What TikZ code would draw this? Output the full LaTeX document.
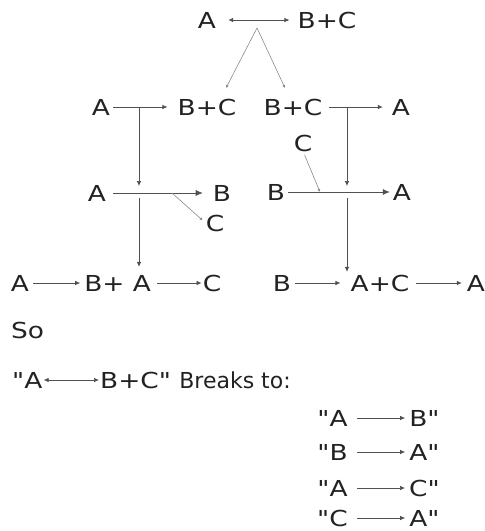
\documentclass[tikz,border=0pt]{standalone}
\usepackage{fontspec}
\setmainfont{DejaVu Sans}[FakeStretch=1.2,Ligatures=TeXOff]
\newfontfamily\plainfont{DejaVu Sans}[Ligatures=TeXOff]
\usepackage{xcolor}
\usetikzlibrary{arrows.meta,positioning,calc}
\definecolor{inkcol}{HTML}{222222}
\definecolor{linecol}{HTML}{505050}
\definecolor{leadcol}{HTML}{8A8A8A}

\begin{document}
\begin{tikzpicture}[x=1pt,y=-1pt,font=\fontsize{22}{26}\selectfont,
  every node/.style={text=inkcol,inner sep=0pt,text height=16pt,text depth=0pt},
  rx/.style={draw=linecol,line width=0.7pt,-{Latex[length=5pt,width=4.5pt]}},
  rxx/.style={rx,{Latex[length=5pt,width=4.5pt]}-{Latex[length=5pt,width=4.5pt]}},
  big/.style={-{Latex[length=7pt,width=6pt]}},
  lead/.style={draw=leadcol,line width=0.6pt,-{Latex[length=3pt,width=3pt]}},
]
\useasboundingbox (0,0) rectangle (485,531);

% the reversible reaction
\node (tA) at (207,20) {A};
\node (tBC) at (327,20) {B+C};
\draw[rxx,shorten <=12pt,shorten >=8pt] (tA) -- (tBC);
\coordinate (split) at (257,28);
\coordinate (lTo) at (226,88);
\coordinate (rTo) at (285,88);
\draw[lead] (split) -- (lTo);
\draw[lead] (split) -- (rTo);

% forward and back
\node (lA) at (101,107) {A};
\node (lBC) at (207,107) {B+C};
\draw[rx,shorten <=3pt,shorten >=10pt] (lA) -- (lBC);
\node (rBC) at (293,107) {B+C};
\node (rA) at (401,107) {A};
\draw[rx,shorten <=6pt,shorten >=9pt] (rBC) -- (rA);

% left: A gives B, C goes off
\node (mA) at (97,193) {A};
\node (mB) at (222,193) {B};
\node (mC) at (215,223) {C};
\draw[rx,big,shorten <=7pt,shorten >=10pt] (mA) -- (mB);
\coordinate (cut1) at ($(mA)!0.6!(mB)$);
\draw[lead,shorten >=4pt] (cut1) -- (mC.west);
\coordinate (j1) at (139,107);
\coordinate (j3) at (139,198);
\draw[rx,shorten >=7pt] (j1) -- (j1 |- mA);

% right: C comes in, B gives A
\node (rC) at (303,143) {C};
\node (rB) at (276,192) {B};
\node (rA3) at (402,192) {A};
\draw[rx,big,shorten <=3pt,shorten >=3pt] (rB) -- (rA3);
\coordinate (cut2) at (320,192);
\draw[lead,shorten <=4pt] (rC.south) -- (cut2);
\coordinate (k1) at (347,107);
\coordinate (k3) at (347,198);
\draw[rx,shorten >=6pt] (k1) -- (k1 |- rA3);

% the chains
\node (bA) at (20,283) {A};
\node (bBp) at (104.5,283) {B+};
\node (bA2) at (142,283) {A};
\node (bC) at (212,283) {C};
\draw[rx,shorten <=4pt,shorten >=4pt] (bA) -- (bBp);
\draw[rx,shorten <=6pt,shorten >=1pt] (bA2) -- (bC);
\draw[rx,shorten >=8pt] (j3) -- (j3 |- bA2.north);

\node (cB) at (282,283) {B};
\node (cAC) at (380,283) {A+C};
\node (cA) at (476,283) {A};
\draw[rx,shorten <=4pt,shorten >=10pt] (cB) -- (cAC);
\draw[rx,shorten <=6pt,shorten >=5pt] (cAC) -- (cA);
\draw[rx,shorten >=3pt] (k3) -- (k3 |- cAC.north);

% summary
\node[anchor=west] (so) at (11,330) {So};
\node[anchor=west] (qA) at (12,380) {"A};
\node[anchor=west] (qBC) at (100,380) {B+C" {\plainfont Breaks to:}};
\draw[rxx,shorten <=1pt,shorten >=1pt] (qA) -- (qBC);

\foreach \l/\r/\y/\n in {A/B/418/1,B/A/452/2,A/C/488/3,C/A/518/4}{
  \node (p\n) at (332.5,\y) {"\l};
  \node (q\n) at (424.5,\y) {\r"};
  \draw[rx,shorten <=9pt,shorten >=4pt] (p\n) -- (q\n);
}
\end{tikzpicture}
\end{document}
